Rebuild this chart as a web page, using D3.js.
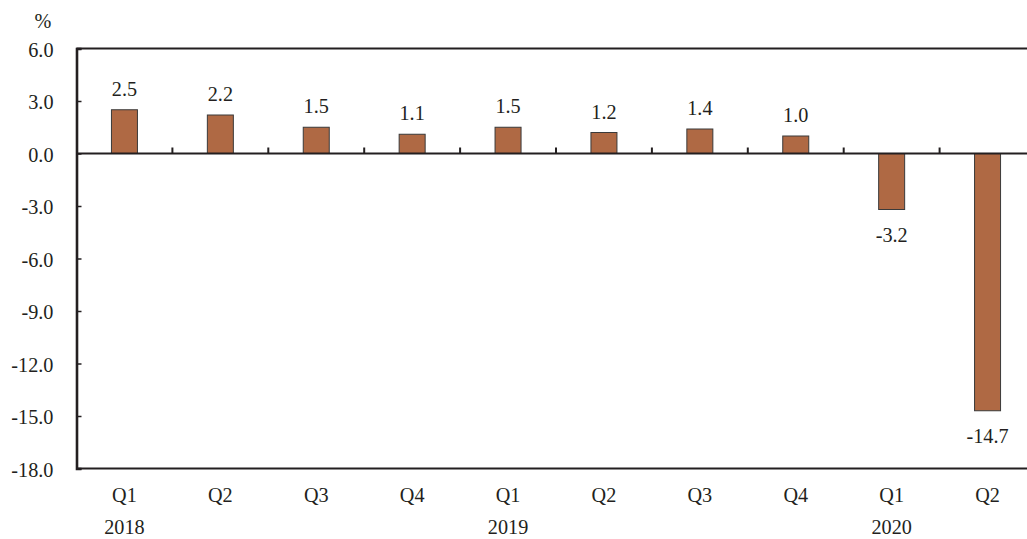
<!DOCTYPE html>
<html><head><meta charset="utf-8">
<script src="https://cdn.jsdelivr.net/npm/d3@7"></script>
<style>body{margin:0;background:#fff}svg{display:block}text{font-family:"Liberation Serif","Times New Roman",serif;fill:#231f20}</style>
</head><body><svg id="c" width="1027" height="539"></svg>
<script>
const quarters = ["Q1","Q2","Q3","Q4","Q1","Q2","Q3","Q4","Q1","Q2"];
const years = ["2018","","","","2019","","","","2020",""];
const values = [2.5,2.2,1.5,1.1,1.5,1.2,1.4,1.0,-3.2,-14.7];
const yTicks = [6,3,0,-3,-6,-9,-12,-15,-18];

const svg = d3.select("#c");
const L = 76.5, T = 48.5, B = 468.5, R = 1035.5;
const x = d3.scaleBand().domain(d3.range(values.length)).range([L, R]).paddingInner(0).paddingOuter(0);
const y = d3.scaleLinear().domain([-18, 6]).range([B, T]);
const bw = 26;
const fmt = d => d3.format(".1f")(d).replace("\u2212", "-");
const FS = 22, SX = 0.92;

function label(sel, xf, yf, anchor) {
  return sel.attr("transform", (d,i) => `translate(${xf(d,i)},${yf(d,i)}) scale(${SX},1)`)
    .attr("text-anchor", anchor).attr("font-size", FS);
}

// bars
svg.selectAll("rect.bar").data(values).enter().append("rect")
  .attr("x", (d,i) => x(i) + x.bandwidth()/2 - bw/2)
  .attr("y", d => y(Math.max(0,d)))
  .attr("width", bw)
  .attr("height", d => Math.abs(y(d) - y(0)))
  .attr("fill", "#af6944").attr("stroke", "#3a3a3a").attr("stroke-width", 1);

// frame lines
svg.append("line").attr("x1", L).attr("x2", 1027).attr("y1", T).attr("y2", T).attr("stroke", "#231f20").attr("stroke-width", 2.2);
svg.append("line").attr("x1", L).attr("x2", 1027).attr("y1", B).attr("y2", B).attr("stroke", "#231f20").attr("stroke-width", 2.2);
svg.append("line").attr("x1", L).attr("x2", 1027).attr("y1", y(0)).attr("y2", y(0)).attr("stroke", "#231f20").attr("stroke-width", 2);

// y axis
const yAxis = d3.axisRight(y).tickValues(yTicks).tickSize(5).tickFormat("");
const ya = svg.append("g").attr("transform", `translate(${L},0)`).call(yAxis);
ya.select(".domain").attr("stroke", "#231f20").attr("stroke-width", 2.6);
ya.selectAll(".tick line").attr("stroke", "#231f20").attr("stroke-width", 1.5);
label(svg.selectAll("text.ytl").data(yTicks).enter().append("text"),
  () => 53.5, d => y(d) + 8, "end").text(fmt);
label(svg.append("text").datum(0), () => 43, () => 28, "middle").text("%");

// category ticks on zero line
const xTicks = d3.range(1, values.length);
svg.selectAll("line.ct").data(xTicks).enter().append("line")
  .attr("x1", i => x(i)).attr("x2", i => x(i))
  .attr("y1", y(0)).attr("y2", y(0) - 6)
  .attr("stroke", "#231f20").attr("stroke-width", 2);

// value labels
label(svg.selectAll("text.vl").data(values).enter().append("text"),
  (d,i) => x(i) + x.bandwidth()/2,
  d => d >= 0 ? y(d) - 14 : y(d) + 32, "middle").text(fmt);

// category labels
label(svg.selectAll("text.q").data(quarters).enter().append("text"),
  (d,i) => x(i) + x.bandwidth()/2, () => 502, "middle").text(d => d);
label(svg.selectAll("text.yr").data(years).enter().append("text"),
  (d,i) => x(i) + x.bandwidth()/2, () => 534, "middle").text(d => d);
</script></body></html>
